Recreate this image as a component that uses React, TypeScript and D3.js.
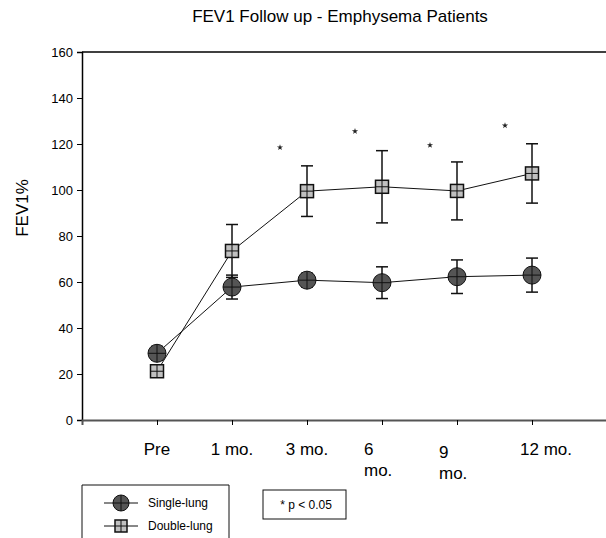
import React, { useEffect, useRef } from 'react';
import * as d3 from 'd3';

const categories = ['Pre', '1 mo.', '3 mo.', '6 mo.', '9 mo.', '12 mo.'];
const tickLabelLines = [['Pre'], ['1 mo.'], ['3 mo.'], ['6', 'mo.'], ['9', 'mo.'], ['12 mo.']];
const singleLung = [29, 57.8, 60.8, 59.7, 62.3, 63];
const singleLungErr = [3, 5.2, 3, 6.9, 7.3, 7.4];
const doubleLung = [21.2, 73.5, 99.5, 101.4, 99.6, 107.2];
const doubleLungErr = [2, 11.5, 11, 15.7, 12.6, 12.9];
const starX = [2.64, 3.64, 4.64, 5.64];
const starY = [118.5, 125.5, 119.5, 128];
const yTicks = [0, 20, 40, 60, 80, 100, 120, 140, 160];

const App: React.FC = () => {
  const svgRef = useRef<SVGSVGElement | null>(null);

  useEffect(() => {
    if (!svgRef.current) return;
    const width = 606;
    const height = 538;
    const left = 82;
    const top = 52;
    const bottom = 420;

    const svg = d3.select(svgRef.current);
    svg.selectAll('*').remove();
    svg.attr('width', width).attr('height', height);

    const font = 'Arial, "Liberation Sans", sans-serif';
    const x = d3.scaleLinear().domain([0, 7]).range([left, 607]);
    const y = d3.scaleLinear().domain([0, 160]).range([bottom, top]);

    // title
    svg.append('text')
      .attr('x', 340).attr('y', 22)
      .attr('text-anchor', 'middle')
      .style('font-family', font).style('font-size', '17px')
      .text('FEV1 Follow up - Emphysema Patients');

    // y label
    svg.append('text')
      .attr('transform', `translate(28, 208) rotate(-90)`)
      .attr('text-anchor', 'middle')
      .style('font-family', font).style('font-size', '17px')
      .text('FEV1%');

    // y axis
    const yAxis = d3.axisLeft(y).tickValues(yTicks).tickSize(5).tickPadding(4);
    const gy = svg.append('g').attr('transform', `translate(${left},0)`).call(yAxis);
    gy.select('.domain').attr('stroke', '#000').attr('stroke-width', 1.5);
    gy.selectAll('text').style('font-family', font).style('font-size', '13px');

    // top frame line
    svg.append('line')
      .attr('x1', left).attr('x2', 606).attr('y1', top).attr('y2', top)
      .attr('stroke', '#000').attr('stroke-width', 1.5);

    // x axis
    const xAxis = d3.axisBottom(x).tickValues(d3.range(1, categories.length + 1)).tickSize(5).tickFormat(() => '');
    const gx = svg.append('g').attr('transform', `translate(0,${bottom})`).call(xAxis);
    gx.select('.domain').attr('stroke', '#555').attr('stroke-width', 2);

    tickLabelLines.forEach((lines, i) => {
      const wrapped = lines.length > 1;
      const t = svg.append('text')
        .attr('x', wrapped ? x(i + 1) - 18 : x(i + 1) + (i === 5 ? 14 : 0))
        .attr('y', 455 + (i === 4 ? 3 : 0))
        .attr('text-anchor', wrapped ? 'start' : 'middle')
        .style('font-family', font).style('font-size', '17px');
      lines.forEach((l, j) => {
        t.append('tspan').attr('x', t.attr('x')).attr('dy', j === 0 ? 0 : 21).text(l);
      });
    });

    const plot = svg.append('g');

    const drawErr = (vals: number[], errs: number[]) => {
      vals.forEach((v, i) => {
        const cx = x(i + 1);
        const g = plot.append('g').attr('stroke', '#111').attr('stroke-width', 1.5);
        g.append('line').attr('x1', cx).attr('x2', cx).attr('y1', y(v - errs[i])).attr('y2', y(v + errs[i]));
        [v - errs[i], v + errs[i]].forEach((e) => {
          g.append('line').attr('x1', cx - 6).attr('x2', cx + 6).attr('y1', y(e)).attr('y2', y(e));
        });
      });
    };

    const line = d3.line<number>().x((_, i) => x(i + 1)).y((d) => y(d));

    drawErr(doubleLung, doubleLungErr);
    drawErr(singleLung, singleLungErr);

    plot.append('path').attr('d', line(doubleLung) as string).attr('fill', 'none').attr('stroke', '#111').attr('stroke-width', 1);
    plot.append('path').attr('d', line(singleLung) as string).attr('fill', 'none').attr('stroke', '#111').attr('stroke-width', 1);

    const drawCircle = (g: d3.Selection<SVGGElement, unknown, null, undefined>, cx: number, cy: number, r: number) => {
      g.append('circle').attr('cx', cx).attr('cy', cy).attr('r', r)
        .attr('fill', '#555').attr('stroke', '#111').attr('stroke-width', 1);
      g.append('line').attr('x1', cx - r).attr('x2', cx + r).attr('y1', cy).attr('y2', cy).attr('stroke', '#111');
      g.append('line').attr('x1', cx).attr('x2', cx).attr('y1', cy - r).attr('y2', cy + r).attr('stroke', '#111');
    };
    const drawSquare = (g: d3.Selection<SVGGElement, unknown, null, undefined>, cx: number, cy: number, s: number) => {
      g.append('rect').attr('x', cx - s / 2).attr('y', cy - s / 2).attr('width', s).attr('height', s)
        .attr('fill', '#c0c0c0').attr('stroke', '#111').attr('stroke-width', 1.5);
      g.append('line').attr('x1', cx - s / 2).attr('x2', cx + s / 2).attr('y1', cy).attr('y2', cy).attr('stroke', '#111');
      g.append('line').attr('x1', cx).attr('x2', cx).attr('y1', cy - s / 2).attr('y2', cy + s / 2).attr('stroke', '#111');
    };

    doubleLung.forEach((v, i) => drawSquare(plot, x(i + 1), y(v), 13));
    singleLung.forEach((v, i) => drawCircle(plot, x(i + 1), y(v), 9));

    // significance stars
    const star = d3.symbol().type(d3.symbolStar).size(12);
    starX.forEach((sx, i) => {
      plot.append('path')
        .attr('transform', `translate(${x(sx)},${y(starY[i])})`)
        .attr('d', star() as string)
        .attr('fill', '#222');
    });

    // legend
    const leg = svg.append('g');
    leg.append('path').attr('d', 'M82,538 V485 H229 V538').attr('fill', 'none').attr('stroke', '#111').attr('stroke-width', 1);
    [['Single-lung', 503], ['Double-lung', 526]].forEach(([name, ly], i) => {
      leg.append('line').attr('x1', 104).attr('x2', 138).attr('y1', ly as number).attr('y2', ly as number).attr('stroke', '#111');
      if (i === 0) drawCircle(leg, 121, ly as number, 8);
      else drawSquare(leg, 121, ly as number, 12);
      leg.append('text').attr('x', 148).attr('y', (ly as number) + 4)
        .style('font-family', font).style('font-size', '12px').text(name as string);
    });

    // p-value box
    svg.append('rect').attr('x', 263).attr('y', 490).attr('width', 83).attr('height', 29)
      .attr('fill', 'none').attr('stroke', '#111').attr('stroke-width', 1);
    svg.append('text').attr('x', 306).attr('y', 509).attr('text-anchor', 'middle')
      .style('font-family', font).style('font-size', '12px').text('* p < 0.05');
  }, []);

  return <svg ref={svgRef} style={{ position: 'absolute', left: 0, top: 0 }}></svg>;
};

export default App;
